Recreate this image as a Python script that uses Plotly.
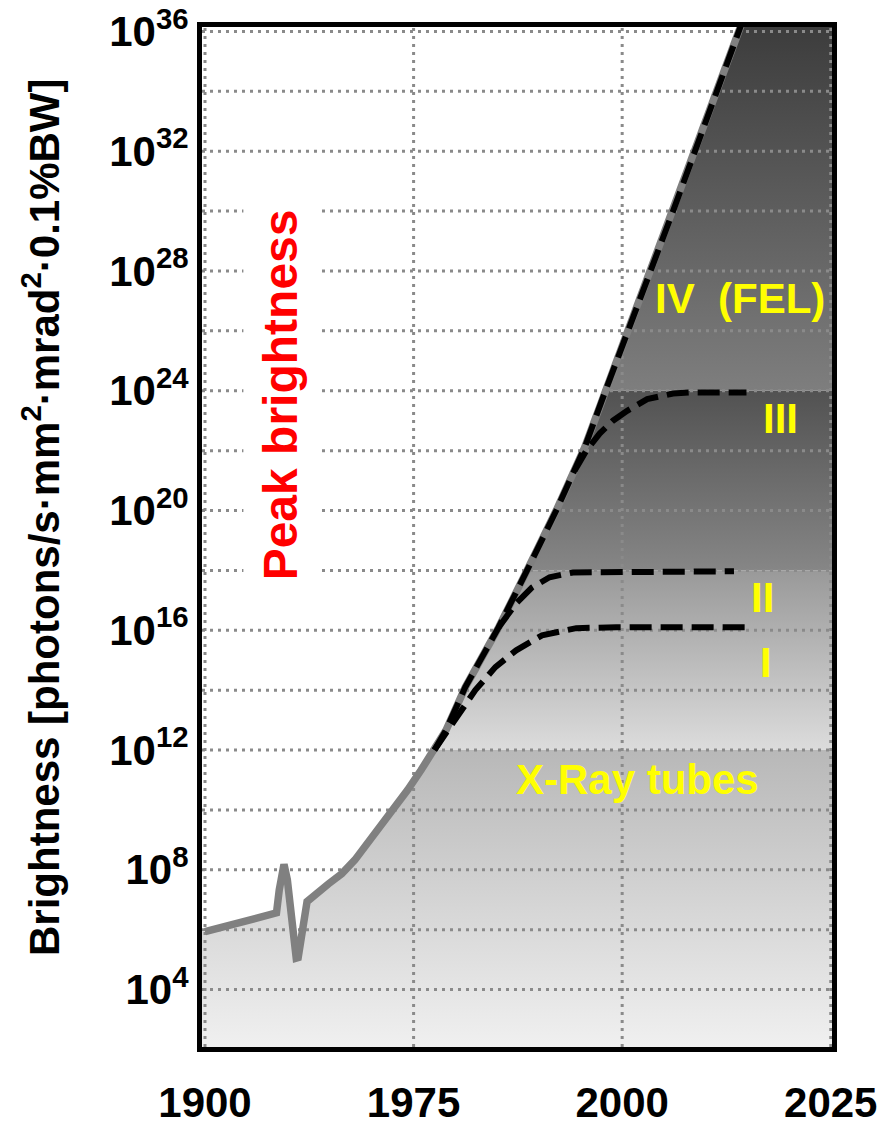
import numpy as np
import plotly.graph_objects as go

# ---------------- data ----------------
# x axis: tick years are equally spaced on the chart (piecewise time scale)
tick_years = [1900, 1975, 2000, 2025]
tick_labels = ["1900", "1975", "2000", "2025"]

# y axis (log10 of brightness)
ytick_exp = [4, 8, 12, 16, 20, 24, 28, 32, 36]
grid_exp = list(range(4, 37, 2))

# grey envelope curve (X-ray tubes -> synchrotrons -> FEL)
grey_year = [1900, 1925.7, 1926.7, 1927.6, 1928.4, 1929.6, 1930.8, 1931.7, 1932.8,
             1933.5, 1934.7, 1936.1, 1936.7, 1944.4, 1949.2, 1953.9, 1958.6, 1963.4,
             1968.1, 1972.9, 1975.9, 1977.5, 1978.9, 1981.2, 1985.2, 1988.6, 1992.1,
             1995.5, 1998.0, 2006.1, 2014.3]
grey_exp = [5.93, 6.56, 7.33, 8.0, 8.18, 7.67, 6.57, 5.67, 5.05,
            5.07, 5.9, 6.83, 6.94, 7.53, 7.87, 8.33, 8.89, 9.44,
            10.02, 10.67, 11.33, 12.0, 12.67, 14.1, 16.1, 18.0, 20.0,
            22.1, 24.0, 30.0, 36.25]

# generation IV (FEL) dashed line
fel_year = [1977.5, 1978.9, 1981.2, 1985.2, 1988.6, 1992.1, 1995.5, 1998.0, 2006.1, 2014.3]
fel_exp = [12.0, 12.67, 14.1, 16.1, 18.0, 20.0, 22.1, 24.0, 30.0, 36.25]

# generation I
g1_year = [1977.5, 1980.0, 1982.4, 1984.8, 1987.3, 1990.4, 1994.5, 1999.3, 2014.7]
g1_exp = [12.0, 13.0, 14.0, 14.77, 15.33, 15.83, 16.07, 16.1, 16.1]

# generation II
g2_year = [1985.2, 1987.3, 1989.2, 1991.3, 1994.1, 2013.4]
g2_exp = [16.1, 16.9, 17.43, 17.77, 17.93, 17.97]

# generation III
g3_year = [1994.3, 1995.7, 1997.3, 1998.9, 2000.6, 2003.0, 2006.1, 2008.1, 2014.9]
g3_exp = [21.33, 22.0, 22.57, 23.0, 23.33, 23.72, 23.91, 23.94, 23.94]

# shaded bands (log10 limits) and their gradient colours (bottom, top)
band_limits = [12, 18, 24]
band_colors = [("#f0f0f0", "#b8b8b8"),
               ("#dcdcdc", "#999999"),
               ("#868686", "#525252"),
               ("#7e7e7e", "#3c3c3c")]

# ---------------- scales ----------------
tick_pos = list(range(len(tick_years)))


def xpos(years):
    return np.interp(np.asarray(years, dtype=float), tick_years, tick_pos)


def yval(exps):
    return 10.0 ** np.asarray(exps, dtype=float)


x_range = [-0.0144, 3.006]
y_range = [2.08, 36.15]

FONT = "Liberation Sans, Arial, Helvetica, sans-serif"

fig = go.Figure()

# ---------------- shaded bands ----------------
gx = xpos(grey_year)
ge = np.asarray(grey_exp)
bounds = [y_range[0]] + band_limits + [float(ge.max())]
for k in range(len(bounds) - 1):
    lo, hi = bounds[k], bounds[k + 1]
    sel = (ge >= lo) & (ge <= hi)
    cx = list(gx[sel])
    ce = list(ge[sel])
    if k == 0:
        xs = [x_range[0], x_range[0]] + cx + [x_range[1], x_range[1], x_range[0]]
        es = [lo, ce[0]] + ce + [hi, lo, lo]
    else:
        xs = cx + [x_range[1], x_range[1], cx[0]]
        es = ce + [hi, lo, ce[0]]
    fig.add_trace(go.Scatter(
        x=xs, y=yval(es), mode="lines", fill="toself",
        line=dict(width=0, color="rgba(0,0,0,0)"),
        fillgradient=dict(type="vertical",
                          colorscale=[[0, band_colors[k][0]], [1, band_colors[k][1]]]),
        hoverinfo="skip", showlegend=False))

# ---------------- dotted grid (drawn above the shading) ----------------
hx, hy = [], []
for e in grid_exp:
    hx += [x_range[0], x_range[1], None]
    hy += [10.0 ** e, 10.0 ** e, None]
vx, vy = [], []
for p in tick_pos:
    vx += [p, p, None]
    vy += [10.0 ** y_range[0], 10.0 ** y_range[1], None]
grid_line = dict(color="#8a8a8a", width=3, dash="3px,5px")
fig.add_trace(go.Scatter(x=hx, y=hy, mode="lines", line=grid_line,
                         hoverinfo="skip", showlegend=False))
fig.add_trace(go.Scatter(x=vx, y=vy, mode="lines", line=grid_line,
                         hoverinfo="skip", showlegend=False))

# ---------------- curves ----------------
fig.add_trace(go.Scatter(x=gx, y=yval(grey_exp), mode="lines",
                         line=dict(color="#808080", width=7.5),
                         hoverinfo="skip", showlegend=False))
dash_line = dict(color="black", width=6, dash="22px,9px")
for yr, ex in [(fel_year, fel_exp), (g1_year, g1_exp), (g2_year, g2_exp), (g3_year, g3_exp)]:
    fig.add_trace(go.Scatter(x=xpos(yr), y=yval(ex), mode="lines", line=dash_line,
                             hoverinfo="skip", showlegend=False))

# ---------------- text ----------------
def ann(text, x, y, color, size, angle=0, bg=None, pad=1, bold=True):
    fig.add_annotation(text=text, x=x, y=y, xref="paper", yref="paper",
                       showarrow=False, textangle=angle, xanchor="center",
                       yanchor="middle", bgcolor=bg, borderpad=pad,
                       font=dict(family=FONT, size=size, color=color,
                                 weight="bold" if bold else "normal"))


ann("Peak brightness", 0.124, 0.639, "#ff0000", 48, angle=-90, bg="white", pad=10)
ann("IV\u00a0\u00a0(FEL)", 0.854, 0.734, "#ffff00", 42)
ann("III", 0.919, 0.616, "#ffff00", 42)
ann("II", 0.889, 0.441, "#ffff00", 42)
ann("I", 0.895, 0.377, "#ffff00", 42)
ann("X-Ray tubes", 0.691, 0.262, "#ffff00", 42)
ann("Brightness [photons/s\u00b7mm<sup>2</sup>\u00b7mrad<sup>2</sup>\u00b70.1%BW]",
    -0.2556, 0.5196, "black", 42, angle=-90)

# ---------------- axes ----------------
fig.update_xaxes(range=x_range, tickmode="array", tickvals=tick_pos, ticktext=tick_labels,
                 showgrid=False, zeroline=False, showline=True, linewidth=5,
                 linecolor="black", mirror=True, ticks="", ticklabelstandoff=15,
                 automargin=False,
                 tickfont=dict(family=FONT, size=42, color="black", weight="bold"))
fig.update_yaxes(type="log", range=y_range, tickmode="array",
                 tickvals=[10.0 ** e for e in ytick_exp],
                 ticktext=["10<sup>%d</sup>" % e for e in ytick_exp],
                 showgrid=False, zeroline=False, showline=True, linewidth=5,
                 linecolor="black", mirror=True, ticks="", automargin=False,
                 tickfont=dict(family=FONT, size=42, color="black", weight="bold"))

fig.update_layout(width=892, height=1122, margin=dict(l=202, r=60, t=27, b=75),
                  paper_bgcolor="white", plot_bgcolor="white", showlegend=False)

fig.write_html("out.html")
